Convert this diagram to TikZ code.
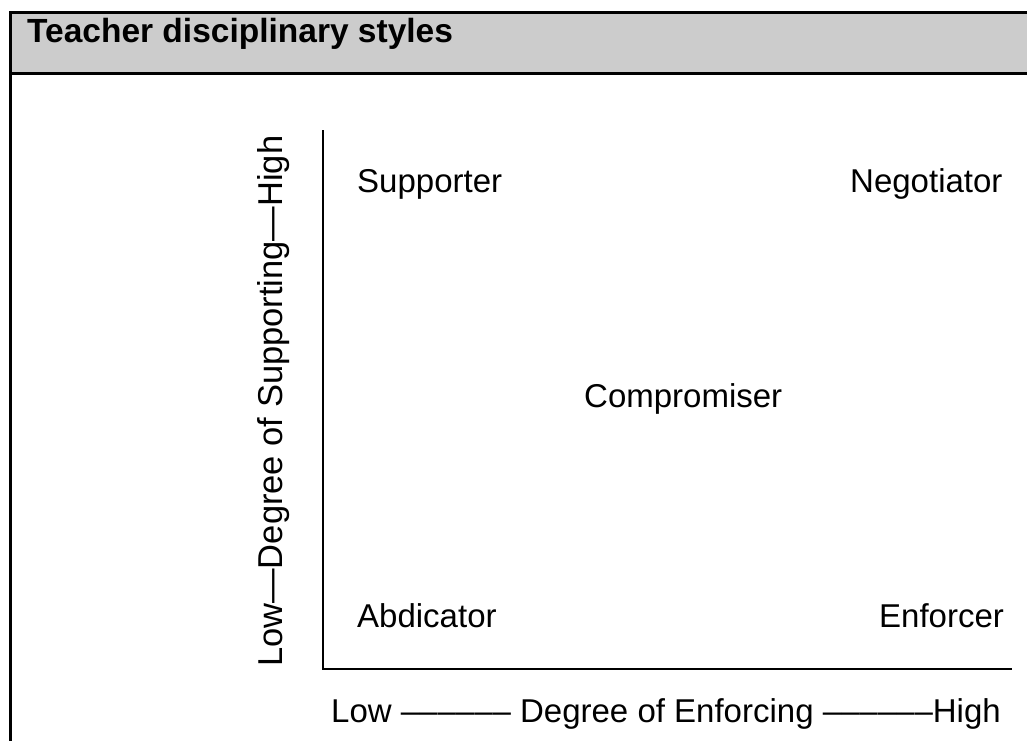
\documentclass[tikz,border=0pt]{standalone}
\usepackage{fontspec}
\setmainfont{Liberation Sans}
\definecolor{headgrey}{HTML}{CCCCCC}
\begin{document}
\begin{tikzpicture}[x=1pt,y=-1pt,
  frameline/.style={line width=3pt,black},
  axisline/.style={line width=2.8pt,black,line cap=rect},
  lbl/.style={anchor=base west,inner sep=0pt,font=\fontsize{33}{40}\selectfont},
  titlelbl/.style={anchor=base west,inner sep=0pt,font=\fontsize{33.5}{40}\selectfont\bfseries},
  vlbl/.style={anchor=base west,inner sep=0pt,rotate=90,font=\fontsize{34.5}{40}\selectfont}]
  \useasboundingbox (0,0) rectangle (1027,740);

  % header bar and frame
  \fill[headgrey] (10.5,12.5) rectangle (1040,73);
  \draw[frameline] (1040,12.5) -- (10.5,12.5) -- (10.5,760);
  \draw[frameline] (10.5,73) -- (1040,73);
  \node[titlelbl] (title) at (27,42) {Teacher disciplinary styles};

  % axes
  \coordinate (ytop) at (323,131);
  \coordinate (orig) at (323,669);
  \coordinate (xend) at (1011,669);
  \draw[axisline] (ytop) -- (orig) -- (xend);

  % axis labels
  \node[vlbl] (ylabel) at (282,667) {Low—Degree of Supporting—High};
  \node[lbl] (xlabel) at (331,722) {Low –––––– Degree of Enforcing ––––––High};

  % quadrant styles
  \node[lbl] (supporter) at (357,192) {Supporter};
  \node[lbl] (negotiator) at (850,192) {Negotiator};
  \node[lbl] (compromiser) at (584,407) {Compromiser};
  \node[lbl] (abdicator) at (357,627) {Abdicator};
  \node[lbl] (enforcer) at (879,627) {Enforcer};
\end{tikzpicture}
\end{document}
